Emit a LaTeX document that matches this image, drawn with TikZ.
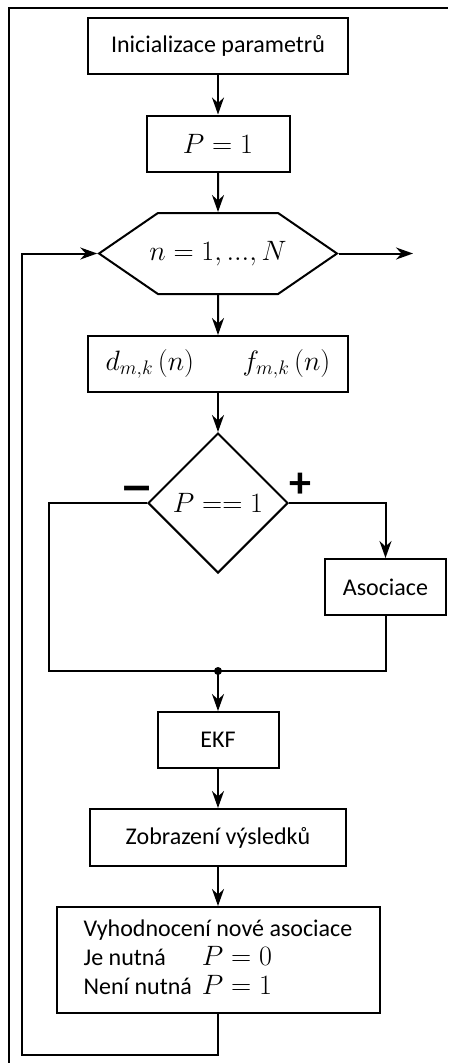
\RequirePackage{fix-cm}
\documentclass[tikz,border=0pt]{standalone}
\usepackage{fontspec}
\setmainfont{Carlito}
\usepackage{amsmath}
\usepackage{graphicx}
\usetikzlibrary{shapes.geometric, shapes.symbols, arrows.meta}
\tikzstyle{arrow} = [line width=2pt, ->, >={Stealth[length=17pt, width=12pt]}]
\tikzstyle{box} = [rectangle, draw, line width=2pt, minimum height=56pt, font=\fontsize{24}{29}\selectfont]
\tikzstyle{mathbox} = [box, font=\fontsize{28}{33}\selectfont]
\tikzstyle{sign} = [font=\fontsize{44}{44}\selectfont\bfseries, inner sep=0pt]
\newcommand{\mth}[1]{{\fontsize{28}{33}\selectfont$#1$}}

\begin{document}
\begin{tikzpicture}[x=1pt, y=-1pt, node distance=97.5pt]
\useasboundingbox (0,0) rectangle (448,1063);
\draw[line width=2pt] (9,1063) -- (9,8) -- (448,8);

\node (init) [box, minimum width=260pt] at (218,46) {Inicializace parametrů};
\node (pone) [mathbox, below of=init, minimum width=143pt] {$P=1$};
\node (forn) [mathbox, signal, signal to=west and east, signal pointer angle=69, inner xsep=-20pt, below of=pone, node distance=110pt, minimum width=238pt, minimum height=81pt] {$n=1,...,N$};
\node (dmf)  [mathbox, below of=forn, node distance=110.5pt, minimum width=260pt] {$d_{m,k}\left(n\right)\hspace{44pt}f_{m,k}\left(n\right)$};
\node (cond) [diamond, draw, line width=2pt, aspect=1, inner sep=0pt, below of=dmf, node distance=139pt, minimum width=140pt, minimum height=140pt, font=\fontsize{28}{33}\selectfont] {$P==1$};
\node (asoc) [box, minimum width=121pt] at (385.5,587) {Asociace};
\node (ekf)  [box, below of=cond, node distance=237pt, minimum width=121pt] {EKF};
\node (zobr) [box, below of=ekf, minimum width=256pt, minimum height=57pt] {Zobrazení výsledků};
\node (vyh)  [box, below of=zobr, node distance=122.5pt, minimum width=323pt, minimum height=106pt] {\begin{tabular}{@{}l@{\hspace{10pt}}l@{}}
\multicolumn{2}{@{}l@{}}{Vyhodnocení nové asociace}\\
Je nutná & \mth{P=0}\\
Není nutná & \mth{P=1}
\end{tabular}};

\node (minus) [sign] at (137,495) {\scalebox{1.6}[1.2]{–}};
\node (plus)  [sign] at (300,485) {+};

\coordinate (out) at (413,253.5);
\coordinate (join) at (218,671);
\coordinate (leftc) at (49,671);
\coordinate (back) at (22,1055);

\draw[arrow] (init) -- (pone);
\draw[arrow] (pone) -- (forn);
\draw[arrow] (forn.east) -- (out);
\draw[arrow] (forn) -- (dmf);
\draw[arrow] (dmf) -- (cond);
\draw[line width=2pt] (cond.west) -| (leftc) -- (join);
\draw[arrow] (cond.east) -| (asoc.north);
\draw[line width=2pt] (asoc.south) |- (join);
\fill (join) circle (4pt);
\draw[arrow] (join) -- (ekf);
\draw[arrow] (ekf) -- (zobr);
\draw[arrow] (zobr) -- (vyh);
\draw[arrow] (vyh.south) |- (back) |- (forn.west);

\end{tikzpicture}
\end{document}
